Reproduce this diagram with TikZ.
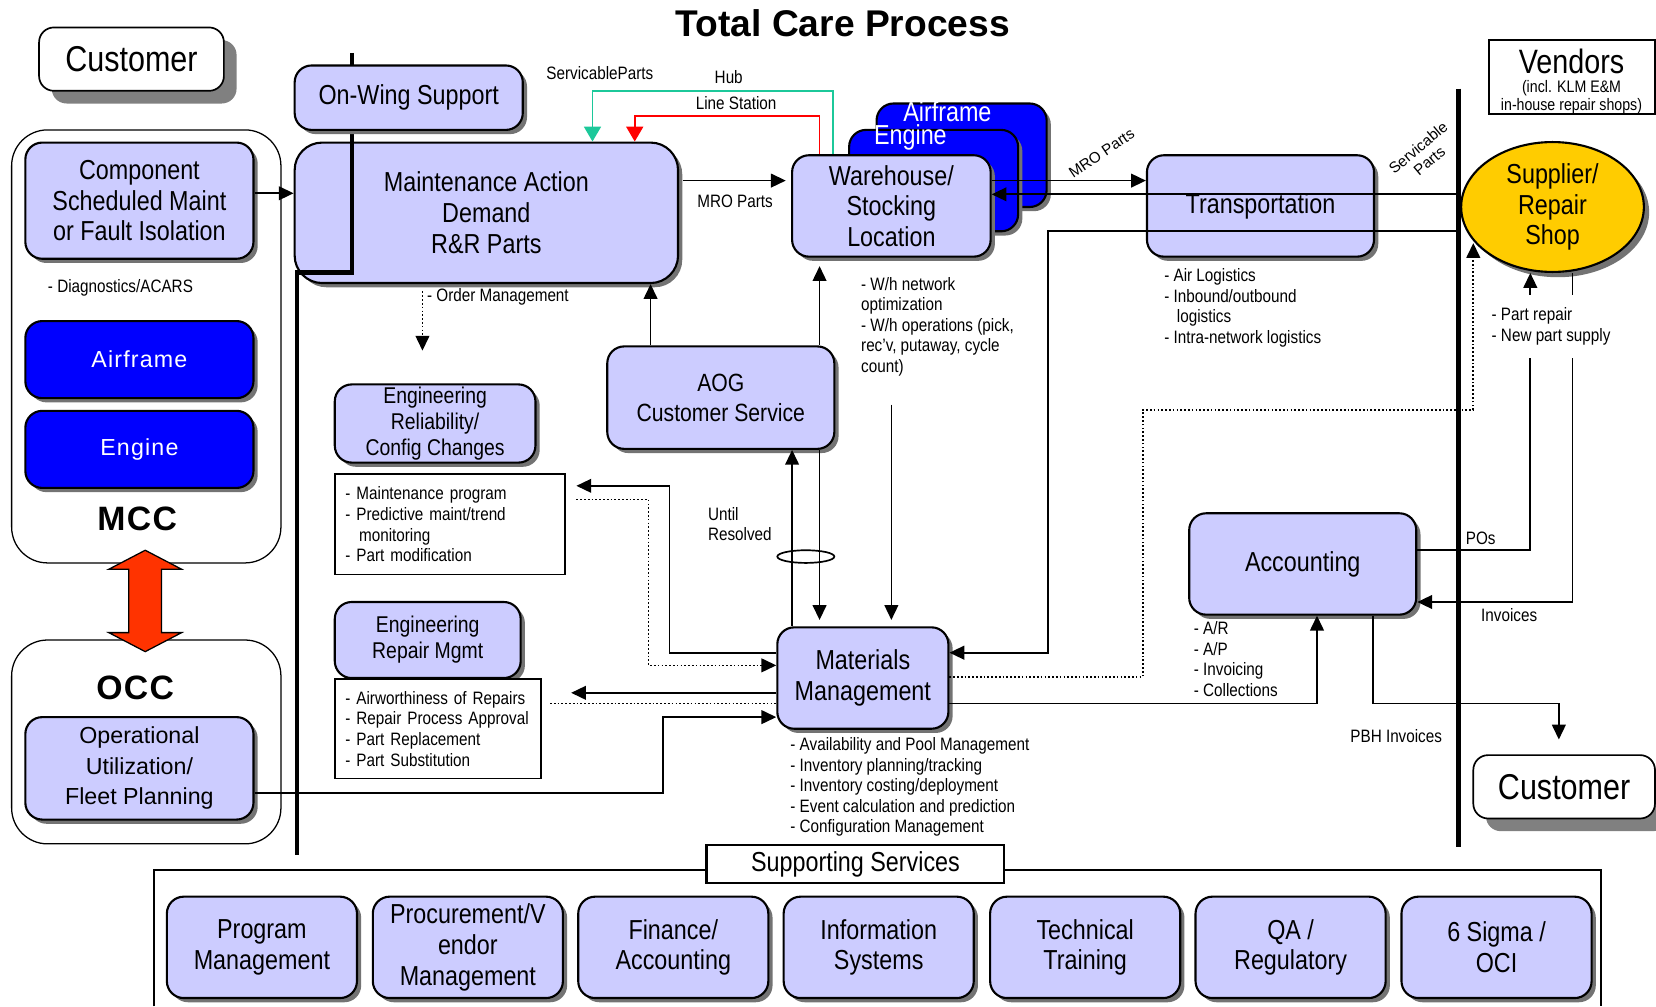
\documentclass[tikz,border=0pt]{standalone}
\usepackage{fontspec}
\setmainfont{Liberation Sans}
\newfontfamily\narrow{Liberation Sans}[FakeStretch=0.85]
\usetikzlibrary{arrows.meta,shadows,shapes.geometric}

\definecolor{lav}{HTML}{CCCCFF}
\definecolor{gold}{HTML}{FFCC00}
\definecolor{hubgreen}{HTML}{1CC89A}
\definecolor{hot}{HTML}{FF3300}

\tikzset{
	boxsize/.style 2 args={minimum width=#1*0.5pt, minimum height=#2*0.5pt},
	procbox/.style={draw, line width=1pt, fill=lav, rounded corners=8pt, inner sep=0pt, align=center,
		font=\narrow\fontsize{13}{14.5}\selectfont,
		drop shadow={shadow xshift=2pt, shadow yshift=-2pt, fill=black!55, opacity=1}},
	unitbox/.style={procbox, fill=blue, text=white, font=\fontsize{11}{13}\selectfont\addfontfeature{LetterSpace=5}},
	partybox/.style={draw, line width=0.8pt, fill=white, rounded corners=7pt, inner sep=0pt,
		font=\narrow\fontsize{17}{20}\selectfont,
		drop shadow={shadow xshift=6pt, shadow yshift=-6pt, fill=black!50, opacity=1}},
	groupbox/.style={draw, line width=0.6pt, rounded corners=17pt},
	listbox/.style={draw, line width=0.8pt, fill=white, inner sep=0pt,
		font=\narrow\fontsize{8.5}{9.75}\selectfont},
	notetext/.style={inner sep=0pt, align=left, anchor=north west, font=\narrow\fontsize{8.5}{9.75}\selectfont},
	tagtext/.style={inner sep=0pt, font=\narrow\fontsize{8.5}{9.75}\selectfont},
	slanttext/.style={inner sep=0pt, align=center, font=\fontsize{7.2}{8.2}\selectfont},
	flow/.style={line width=0.8pt, -{Triangle[length=7pt,width=6.5pt]}},
	rail/.style={line width=2pt},
}

\begin{document}
\begin{tikzpicture}[x=0.5pt,y=-0.5pt]
	\useasboundingbox (0,0) rectangle (1568,953);

	\node[font=\bfseries\fontsize{17.6}{20}\selectfont] (title) at (798,22) {Total Care Process};

	% MCC / OCC column
	\node[partybox, boxsize={175}{60}] (cust) at (124.5,56) {Customer};
	\draw[groupbox] (11,123) rectangle (266,533);
	\node[procbox, boxsize={216}{110}] (comp) at (132,190) {Component\\Scheduled Maint\\or Fault Isolation};
	\node[notetext, anchor=west] (diag) at (45,273) {- Diagnostics/ACARS};
	\node[unitbox, boxsize={216}{73}] (afr) at (132,340.5) {Airframe};
	\node[unitbox, boxsize={216}{73}] (eng) at (132,425.5) {Engine};
	\node[font=\bfseries\fontsize{16}{18}\selectfont\addfontfeature{LetterSpace=4}] (mcc) at (130,491) {MCC};

	\draw[groupbox] (11,606) rectangle (266,799);
	\filldraw[fill=hot, line width=0.6pt] (137.5,521) -- (172,539) -- (153,539) -- (153,599) -- (172,599) -- (137.5,617)
		-- (103,599) -- (122,599) -- (122,539) -- (103,539) -- cycle;
	\node[font=\bfseries\fontsize{16}{18}\selectfont\addfontfeature{LetterSpace=4}] (occ) at (128,651) {OCC};
	\node[procbox, boxsize={216}{97}, font=\fontsize{11}{14.5}\selectfont] (opu) at (132,727.5) {Operational\\Utilization/\\Fleet Planning};

	% maintenance demand
	\node[procbox, rounded corners=13pt, boxsize={363}{133}] (mad) at (460.5,201.5) {Maintenance Action\\Demand\\R\&R Parts};
	\draw[rail] (333,50) |- (281,258) -- (281,810);
	\node[procbox, boxsize={216}{61}] (onw) at (387,92.5) {On-Wing Support};
	\draw[flow] (comp.east |- 0,183) -- (mad.west |- 0,183);

	\node[procbox, boxsize={190}{74}, font=\narrow\fontsize{10.8}{12.3}\selectfont] (erc) at (412,401) {Engineering\\Reliability/\\Config Changes};
	\node[listbox, boxsize={218}{95}, text width=99pt, align=left] (erclist) at (426,496.5) {- Maintenance program\\- Predictive maint/trend\\\hspace*{6.5pt}monitoring\\- Part modification};
	\node[procbox, boxsize={176}{72}, font=\narrow\fontsize{10.8}{12.3}\selectfont] (erm) at (405,606) {Engineering\\Repair Mgmt};
	\node[listbox, boxsize={195}{94}, text width=87.5pt, align=left] (ermlist) at (414.5,690) {- Airworthiness of Repairs\\- Repair Process Approval\\- Part Replacement\\- Part Substitution};

	\node[procbox, boxsize={215}{97}, font=\narrow\fontsize{11.8}{14}\selectfont] (aog) at (682.5,376.5) {AOG\\Customer Service};

	% warehouse in front of the airframe and engine stock
	\node[procbox, fill=blue, boxsize={161}{98}] (whafr) at (910.5,147) {};
	\node[tagtext, text=white, font=\narrow\fontsize{13}{14.5}\selectfont] (whafrtag) at (897,106) {Airframe};
	\node[procbox, fill=blue, boxsize={160}{96}] (wheng) at (884,171) {};
	\node[tagtext, text=white, font=\narrow\fontsize{13}{14.5}\selectfont] (whengtag) at (862,130) {Engine};
	\node[procbox, boxsize={188}{96}] (wh) at (844,195) {Warehouse/\\Stocking\\Location};

	\node[procbox, boxsize={162}{96}] (mm) at (817,642) {Materials\\Management};

	\draw[flow, hubgreen, -{Triangle[length=7pt,width=8pt]}] (789,0 |- wh.north) |- (561,86) -- (561,0 |- mad.north);
	\draw[flow, red, -{Triangle[length=7pt,width=8pt]}] (776,0 |- wh.north) |- (601,110) -- (601,0 |- mad.north);
	\node[tagtext] (svc) at (568,69) {ServicableParts};
	\node[tagtext] (hub) at (690,73) {Hub};
	\node[tagtext] (lstn) at (697,98) {Line Station};

	\draw[flow, shorten <=2pt, shorten >=2.5pt] (mad.east |- 0,171) -- (wh.west |- 0,171);
	\node[tagtext] (mro) at (696,191) {MRO Parts};

	\draw[flow, densely dotted, shorten <=3.5pt, shorten >=15.5pt] (400,0 |- mad.south) -- (400,0 |- erc.north);
	\node[notetext, anchor=west] (ordm) at (404,281) {- Order Management};

	\draw[flow] (616,0 |- aog.north) -- (616,0 |- mad.south);
	\draw[flow, shorten >=4pt] (776,0 |- aog.north) -- (776,0 |- wh.south);

	\node[notetext] (whnote) at (815,262) {- W/h network\\optimization\\- W/h operations (pick,\\rec’v, putaway, cycle\\count)};
	\coordinate (whdrop) at (844,383);
	\draw[flow, shorten >=3pt] (whdrop) -- (whdrop |- mm.north);

	\draw[flow] (750,0 |- mm.north) -- (750,0 |- aog.south);
	\draw[flow, shorten >=3pt] (776,0 |- aog.south) -- (776,0 |- mm.north);
	\draw[line width=0.8pt] (763,527) ellipse [x radius=13.5pt, y radius=3pt];
	\node[notetext] (until) at (670,480) {Until\\Resolved};

	\node[notetext] (mmnote) at (748,698) {- Availability and Pool Management\\- Inventory planning/tracking\\- Inventory costing/deployment\\- Event calculation and prediction\\- Configuration Management};

	\draw[flow, shorten >=5pt] (mm.west |- 0,618) -| (634,460) -- (erclist.east |- 0,460);
	\draw[flow, densely dotted, shorten <=5pt] (erclist.east |- 0,473) -| (614,630) -- (mm.west |- 0,630);
	\draw[flow, shorten >=14pt] (mm.west |- 0,656) -- (ermlist.east |- 0,656);
	\draw[line width=0.8pt, densely dotted, shorten <=4pt] (ermlist.east |- 0,666) -- (mm.west |- 0,666);
	\draw[flow] (opu.east |- 0,751) -| (628,679) -- (mm.west |- 0,679);

	% transport and vendors
	\node[procbox, boxsize={215}{96}] (trans) at (1193.5,195) {Transportation};
	\node[notetext] (transnote) at (1102,254) {- Air Logistics\\- Inbound/outbound\\\hspace*{6pt}logistics\\- Intra-network logistics};

	\node[procbox, ellipse, fill=gold, boxsize={173}{123},
		drop shadow={shadow xshift=2.5pt, shadow yshift=-2.5pt, fill=black!55, opacity=1}] (sup) at (1470,196) {Supplier/\\Repair\\Shop};
	\draw[rail] (1381,84) -- (1381,802);

	\node[draw, line width=1pt, boxsize={157}{70}, inner sep=0pt] (vend) at (1488.5,73) {};
	\node[inner sep=0pt, font=\narrow\fontsize{16}{18}\selectfont] (vendname) at (1488,58) {Vendors};
	\node[inner sep=0pt, align=center, font=\narrow\fontsize{7.9}{8.5}\selectfont] (vendnote) at (1488,92) {(incl. KLM E\&M\\in-house repair shops)};

	\draw[flow] (wh.east |- 0,171) -- (trans.west |- 0,171);
	\draw[flow] (sup.west |- 0,184) -- (wh.east |- 0,184);
	\draw[flow] (sup.west |- 0,219) -| (992,618) -- (mm.east |- 0,618);
	\node[slanttext, rotate=34] (mro2) at (1043,145) {MRO Parts};
	\node[slanttext, rotate=40] (svc2) at (1348,146) {Servicable\\Parts};

	\draw[flow, densely dotted] (mm.east |- 0,641) -| (1082,388) -| (1395,0 |- sup.205);

	% accounting
	\node[procbox, boxsize={215}{96}] (acc) at (1233.5,534) {Accounting};
	\node[notetext] (accnote) at (1130,588) {- A/R\\- A/P\\- Invoicing\\- Collections};
	\draw[flow] (mm.east |- 0,666) -| (1247,0 |- acc.south);
	\draw[flow] (acc.east |- 0,521) -| (1449,0 |- sup.south);
	\draw[flow] (1489,0 |- sup.south) |- (acc.east |- 0,570);
	\node[notetext, fill=white, inner ysep=6pt, inner xsep=2pt] (supnote) at (1408,279) {- Part repair\\- New part supply};
	\node[tagtext] (pos) at (1402,510) {POs};
	\node[tagtext] (inv) at (1429,582) {Invoices};

	\node[partybox, boxsize={172}{60}] (cust2) at (1481,745) {Customer};
	\draw[flow, shorten >=7pt] (1300,0 |- acc.south) |- (1476,666) -- (1476,0 |- cust2.north);
	\node[tagtext] (pbh) at (1322,697) {PBH Invoices};

	% supporting services
	\draw[line width=1pt] (146,953) -- (146,824) -- (1516,824) -- (1516,953);
	\node[draw, line width=1pt, fill=white, boxsize={282}{36}, inner sep=0pt, font=\narrow\fontsize{13}{14.5}\selectfont] (supp) at (810,818) {Supporting Services};
	\node[procbox, boxsize={180}{96}] (pgm) at (248,897) {Program\\Management};
	\node[procbox, boxsize={180}{96}] (proc) at (443,897) {Procurement/V\\endor\\Management};
	\node[procbox, boxsize={180}{96}] (fin) at (637.5,897) {Finance/\\Accounting};
	\node[procbox, boxsize={180}{96}] (info) at (832,897) {Information\\Systems};
	\node[procbox, boxsize={180}{96}] (tech) at (1027.5,897) {Technical\\Training};
	\node[procbox, boxsize={180}{96}] (qa) at (1222,897) {QA /\\Regulatory};
	\node[procbox, boxsize={180}{96}] (oci) at (1417,897) {6 Sigma /\\OCI};

\end{tikzpicture}
\end{document}
